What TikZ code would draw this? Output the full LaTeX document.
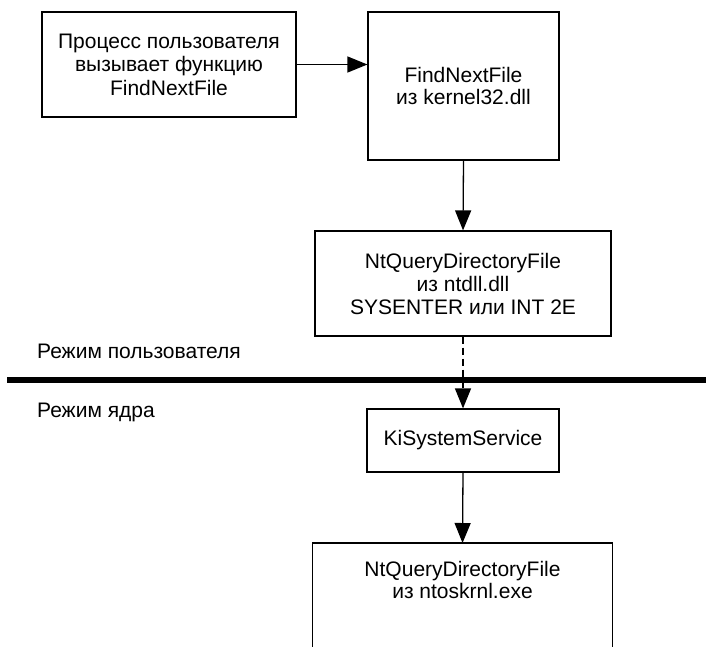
\documentclass[tikz,border=0pt]{standalone}
\usepackage{fontspec}
\setmainfont{Liberation Sans}
\usetikzlibrary{arrows.meta}
\begin{document}
\begin{tikzpicture}[x=1pt,y=-1pt,
  txt/.style={font=\fontsize{21pt}{22pt}\selectfont},
  box/.style={txt, draw, line width=1.2pt, inner sep=0pt, align=center},
  flow/.style={line width=1.3pt, -{Triangle[length=20pt,width=16pt]}},
  sysflow/.style={flow, dash pattern=on 7pt off 4pt},
  modelabel/.style={txt, anchor=base west, inner sep=0pt}
]
\useasboundingbox (0,0) rectangle (706,646);

% user-mode chain
\node[box, minimum width=254pt, minimum height=105pt,
      font=\fontsize{21pt}{23.5pt}\selectfont] (b1) at (169,64.5)
  {Процесс пользователя\\вызывает функцию\\FindNextFile};
\node[box, minimum width=191pt, minimum height=148pt] (b2) at (463.5,86)
  {FindNextFile\\из kernel32.dll};
\node[box, minimum width=296pt, minimum height=105pt,
      font=\fontsize{21pt}{23pt}\selectfont] (b3) at (463,283.5)
  {NtQueryDirectoryFile\\из ntdll.dll\\SYSENTER или INT 2E};

% boundary between the two modes
\coordinate (divL) at (7,379.5);
\coordinate (divR) at (706,379.5);
\draw[line width=6pt] (divL) -- (divR);
\node[modelabel] (um) at (37,358) {Режим пользователя};
\node[modelabel] (km) at (37,417) {Режим ядра};

% kernel-mode chain
\node[box, minimum width=192pt, minimum height=63pt] (b4) at (463,440.5)
  {KiSystemService};
\node[draw=none, inner sep=0pt, minimum width=299pt, minimum height=120pt,
      anchor=north] (b5) at (462.5,543) {};
\draw[line width=1.2pt] (b5.south west) |- (b5.north east) -- (b5.south east);
\node[txt, anchor=north, inner sep=0pt, align=center] (b5txt) at (462.5,561.5)
  {NtQueryDirectoryFile\\из ntoskrnl.exe};

% calls
\draw[flow] (b1.east) -- (b1.east -| b2.west);
\draw[flow] (b2.south) -- (b3.north);
\draw[sysflow] (b3.south) -- (b4.north);
\draw[flow] (b4.south) -- (b5.north);
\end{tikzpicture}
\end{document}
